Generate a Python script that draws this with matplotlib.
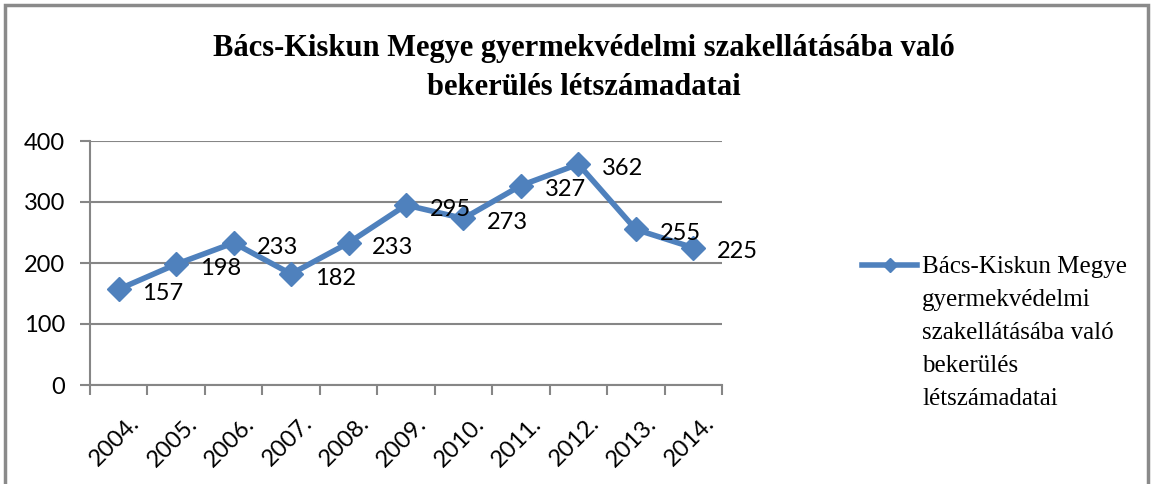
import matplotlib
matplotlib.use("Agg")
import matplotlib.pyplot as plt
from matplotlib.patches import Rectangle
from matplotlib.transforms import ScaledTranslation

years = ["2004.", "2005.", "2006.", "2007.", "2008.", "2009.", "2010.", "2011.", "2012.", "2013.", "2014."]
values = [157, 198, 233, 182, 233, 295, 273, 327, 362, 255, 225]
yticks = [0, 100, 200, 300, 400]
title = "Bács-Kiskun Megye gyermekvédelmi szakellátásába való\nbekerülés létszámadatai"
series_label = "Bács-Kiskun Megye\ngyermekvédelmi\nszakellátásába való\nbekerülés\nlétszámadatai"

W, H = 1153, 484
fig = plt.figure(figsize=(W / 100, H / 100), dpi=100)
fig.patch.set_facecolor("white")

# outer chart border
fig.patches.append(Rectangle((5 / W, -0.05), (1148 - 5) / W, 1.05 - 5 / H,
                             transform=fig.transFigure, fill=False,
                             edgecolor="#8a8a8a", linewidth=2.5))

ax = fig.add_axes([90 / W, 1 - 385 / H, (722 - 90) / W, (385 - 141) / H])
color = "#4F81BD"
grid_c = "#868686"
x = list(range(len(years)))
line, = ax.plot(x, values, color=color, lw=4, marker="D", ms=12,
                label=series_label, zorder=3, clip_on=False)

ax.set_xlim(-0.5, len(years) - 0.5)
ax.set_ylim(0, 400)
ax.set_yticks(yticks)
ax.set_yticklabels([str(v) for v in yticks])
ax.yaxis.grid(True, color=grid_c, lw=1.5)
ax.set_axisbelow(True)
for s in ["top", "right"]:
    ax.spines[s].set_visible(False)
for s in ["left", "bottom"]:
    ax.spines[s].set_color(grid_c)
    ax.spines[s].set_linewidth(1.5)

fs = 17
tick_font = dict(family=["Lato", "DejaVu Sans"], size=fs, color="black")
ax.set_xticks(x)
ax.set_xticklabels(years, rotation=45, ha="right", rotation_mode="anchor", **tick_font)
ax.set_xticks([i - 0.5 for i in range(len(years) + 1)], minor=True)
ax.tick_params(axis="x", which="major", length=0, pad=20)
ax.tick_params(axis="x", which="minor", length=7, width=1.5, color=grid_c, direction="out")
ax.tick_params(axis="y", length=7, width=1.5, color=grid_c, pad=11)
for lab in ax.get_yticklabels():
    lab.set_fontfamily(["Lato", "DejaVu Sans"])
    lab.set_fontsize(fs)
shift = ScaledTranslation(10 / 100, 0, fig.dpi_scale_trans)
for lab in ax.get_xticklabels():
    lab.set_transform(lab.get_transform() + shift)

for xi, v in zip(x, values):
    ax.annotate(str(v), (xi, v), xytext=(17, -3), textcoords="offset points",
                ha="left", va="center", **tick_font)

fig.text(584 / W, 1 - 68 / H, title, ha="center", va="center", linespacing=1.45,
         family=["Liberation Serif", "DejaVu Serif"], weight="bold", size=22)

leg = fig.legend(handles=[line], loc="upper left", bbox_to_anchor=(862 / W, 1 - 256 / H),
                 frameon=False, handlelength=2.2, handletextpad=0.2, markerscale=0.6,
                 borderpad=0, borderaxespad=0,
                 prop=dict(family=["Liberation Serif", "DejaVu Serif"], size=18))
for t in leg.get_texts():
    t.set_linespacing(1.65)
try:
    for col in leg._legend_handle_box.get_children():
        for hp in col.get_children():
            hp.align = "top"
except Exception:
    pass

fig.savefig("out.png", dpi=100, facecolor="white")
